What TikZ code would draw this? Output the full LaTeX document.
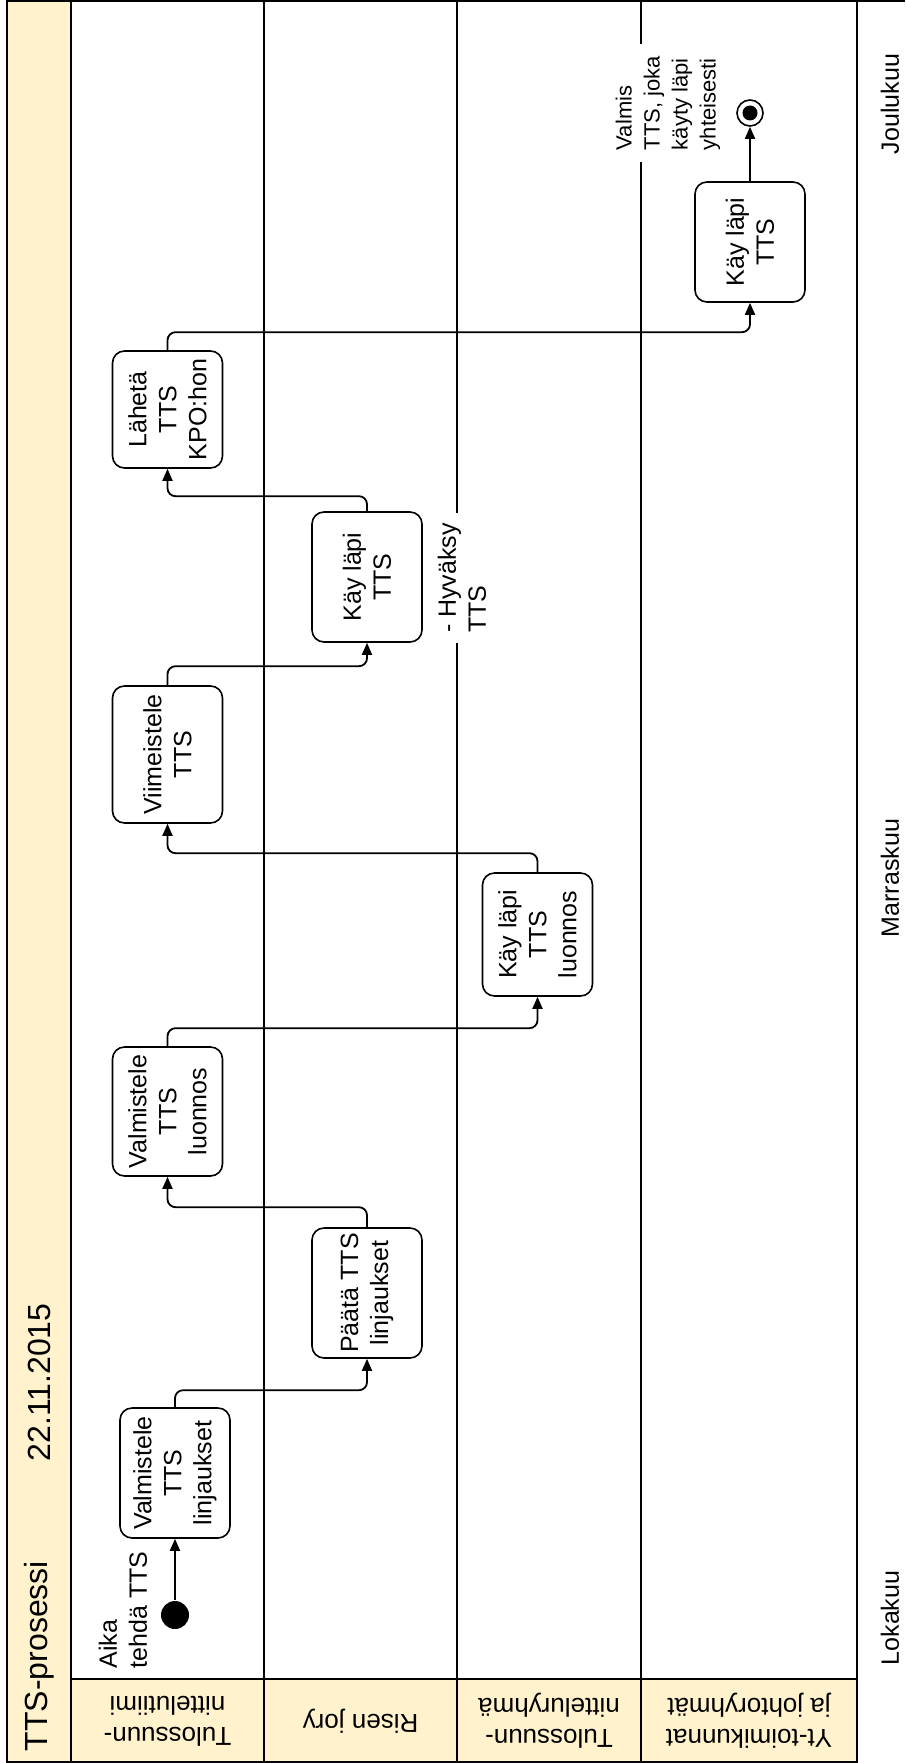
\documentclass[tikz,border=0pt]{standalone}
\usepackage{fontspec}
\setmainfont{Liberation Sans}
\usepackage{tikz}
\usetikzlibrary{arrows.meta, positioning}
\definecolor{laneyellow}{RGB}{255,242,204}

\begin{document}
\begin{tikzpicture}[x=1pt, y=-1pt, line width=1.6pt,
    font=\fontsize{25}{30}\selectfont,
    b/.style={draw, rounded corners=12pt, rotate=90, minimum height=110pt, align=center, fill=white, inner sep=2pt},
    lbl/.style={rotate=90, align=left, inner sep=0pt},
    hdr/.style={rotate=180, align=center, font=\fontsize{26}{31}\selectfont},
    mon/.style={rotate=90},
    arr/.style={-{Triangle[length=12pt, width=10pt]}, line width=1.8pt, rounded corners=8pt}]
    \useasboundingbox (0,0) rectangle (905,1763);
    % pool and lanes
    \fill[laneyellow] (7,1) rectangle (71,1762);
    \fill[laneyellow] (71,1679) rectangle (857,1762);
    \draw (7,1) rectangle (857,1762);
    \draw (857,1) -- (905,1);
    \foreach \x in {71,264,457,641} \draw (\x,1) -- (\x,1762);
    \draw (71,1679) -- (857,1679);
    \node[lbl, anchor=west, font=\fontsize{32}{38}\selectfont] (ttl) at (39,1752) {TTS-prosessi};
    \node[lbl, anchor=west, font=\fontsize{32}{38}\selectfont] (pvm) at (39,1462) {22.11.2015};
    \node[hdr] (h1) at (167.5,1721) {Tulossuun-\\nittelutiimi};
    \node[hdr] (h2) at (360.5,1721) {Risen jory};
    \node[hdr] (h3) at (549,1721) {Tulossuun-\\nitteluryhmä};
    \node[hdr] (h4) at (749,1721) {Yt-toimikunnat\\ja johtoryhmät};
    % months
    \node[mon] (m1) at (890,1618) {Lokakuu};
    \node[mon] (m2) at (890,878) {Marraskuu};
    \node[mon] (m3) at (890,104) {Joulukuu};
    % steps
    \node[circle, fill=black, minimum size=28pt, inner sep=0pt] (ini) at (175,1615) {};
    \node[lbl] (aika) at (123,1610) {Aika\\tehdä TTS};
    \node[b, minimum width=130pt] (b1) at (175,1473) {Valmistele\\TTS\\linjaukset};
    \node[b, minimum width=130pt] (b2) at (367,1293) {Päätä TTS\\linjaukset};
    \node[b, minimum width=129pt] (b3) at (167.5,1111.5) {Valmistele\\TTS\\luonnos};
    \node[b, minimum width=123pt] (b4) at (537.5,934.5) {Käy läpi\\TTS\\luonnos};
    \node[b, minimum width=137pt] (b5) at (167.5,754.5) {Viimeistele\\TTS};
    \node[b, minimum width=130pt] (b6) at (367,577) {Käy läpi\\TTS};
    \node[lbl, fill=white, inner xsep=10pt, inner ysep=3pt] (hyv) at (462,578) {- Hyväksy\\TTS};
    \node[b, minimum width=117pt] (b7) at (167.5,409.5) {Lähetä\\TTS\\KPO:hon};
    \node[b, minimum width=120pt] (b8) at (750,242) {Käy läpi\\TTS};
    \node[circle, draw, fill=white, minimum size=26pt, inner sep=0pt] (fin) at (750,113) {};
    \fill (fin.center) circle (7.5pt);
    \node[lbl, fill=white, font=\fontsize{22}{28}\selectfont, inner xsep=12pt, inner ysep=3pt] (valm) at (668,103) {Valmis\\TTS, joka\\käyty läpi\\yhteisesti};
    % flow
    \draw[arr] (ini) -- (b1);
    \draw[arr] (b1.east) -- ++(0,-17) -| (b2.west);
    \draw[arr] (b2.east) -- ++(0,-20) -| (b3.west);
    \draw[arr] (b3.east) -- ++(0,-18) -| (b4.west);
    \draw[arr] (b4.east) -- ++(0,-19) -| (b5.west);
    \draw[arr] (b5.east) -- ++(0,-19) -| (b6.west);
    \draw[arr] (b6.east) -- ++(0,-15) -| (b7.west);
    \draw[arr] (b7.east) -- ++(0,-18) -| (b8.west);
    \draw[arr] (b8) -- (fin);
\end{tikzpicture}
\end{document}
